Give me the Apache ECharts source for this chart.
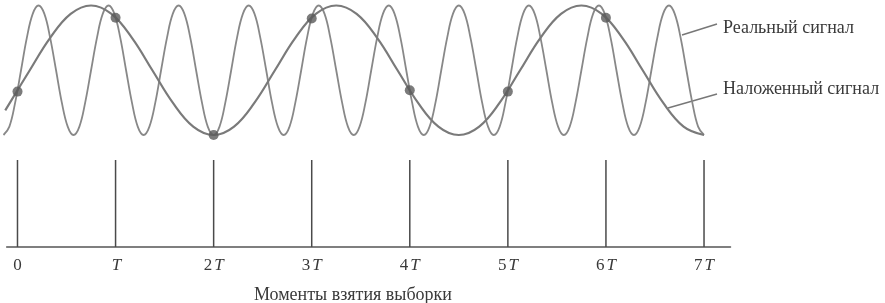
<!DOCTYPE html>
<html><head><meta charset="utf-8">
<script src="https://cdn.jsdelivr.net/npm/echarts@6/dist/echarts.min.js"></script>
<style>html,body{margin:0;padding:0;background:#fff}#c{width:885px;height:303px}</style>
</head><body><div id="c"></div>
<script>
const realT = [-0.143,-0.083,-0.024,0.036,0.095,0.155,0.214,0.274,0.333,0.393,0.452,0.512,
0.571,0.631,0.690,0.750,0.810,0.869,0.929,0.988,1.048,1.107,1.167,1.226,
1.286,1.345,1.405,1.464,1.524,1.583,1.643,1.702,1.762,1.821,1.881,1.940,
2.000,2.060,2.119,2.179,2.238,2.298,2.357,2.417,2.476,2.536,2.595,2.655,
2.714,2.774,2.833,2.893,2.952,3.012,3.071,3.131,3.190,3.250,3.310,3.369,
3.429,3.488,3.548,3.607,3.667,3.726,3.786,3.845,3.905,3.964,4.024,4.083,
4.143,4.202,4.262,4.321,4.381,4.440,4.500,4.560,4.619,4.679,4.738,4.798,
4.857,4.917,4.976,5.036,5.095,5.155,5.214,5.274,5.333,5.393,5.452,5.512,
5.571,5.631,5.690,5.750,5.810,5.869,5.929,5.988,6.048,6.107,6.167,6.226,
6.286,6.345,6.405,6.464,6.524,6.583,6.643,6.702,6.762,6.821,6.881,6.940,
7.000];
const realY = [-1,-0.87,-0.5,0,0.5,0.87,1,0.87,0.5,0,-0.5,-0.87,
-1,-0.87,-0.5,0,0.5,0.87,1,0.87,0.5,0,-0.5,-0.87,
-1,-0.87,-0.5,0,0.5,0.87,1,0.87,0.5,0,-0.5,-0.87,
-1,-0.87,-0.5,0,0.5,0.87,1,0.87,0.5,0,-0.5,-0.87,
-1,-0.87,-0.5,0,0.5,0.87,1,0.87,0.5,0,-0.5,-0.87,
-1,-0.87,-0.5,0,0.5,0.87,1,0.87,0.5,0,-0.5,-0.87,
-1,-0.87,-0.5,0,0.5,0.87,1,0.87,0.5,0,-0.5,-0.87,
-1,-0.87,-0.5,0,0.5,0.87,1,0.87,0.5,0,-0.5,-0.87,
-1,-0.87,-0.5,0,0.5,0.87,1,0.87,0.5,0,-0.5,-0.87,
-1,-0.87,-0.5,0,0.5,0.87,1,0.87,0.5,0,-0.5,-0.87,
-1];
// Aliased (low-frequency) signal
const aliasT = [-0.125,0.125,0.333,0.542,0.750,0.958,1.167,1.375,1.583,1.792,
2.000,2.208,2.417,2.625,2.833,3.042,3.250,3.458,3.667,3.875,4.083,4.292,
4.500,4.708,4.917,5.125,5.333,5.542,5.750,5.958,6.167,6.375,6.583,6.792,7.000];
const aliasY = [-0.62,0,0.5,0.87,1,0.87,0.5,0,-0.5,-0.87,
-1,-0.87,-0.5,0,0.5,0.87,1,0.87,0.5,0,-0.5,-0.87,
-1,-0.87,-0.5,0,0.5,0.87,1,0.87,0.5,0,-0.5,-0.87,-1];
// Sample instants and sampled values
const sampleT = [0,1,2,3,4,5,6];
const sampleY = [-0.33,0.81,-1,0.80,-0.31,-0.33,0.81];
// Sampling pulses
const pulseT = [0,1,2,3,4,5,6,7];
const pulseH = [1,1,1,1,1,1,1,1];
const tickValues = [0,1,2,3,4,5,6,7];
const tickLabels = ['0','T','2T','3T','4T','5T','6T','7T'];
const xTitle = 'Моменты взятия выборки';
const legendReal = 'Реальный сигнал';
const legendAlias = 'Наложенный сигнал';

const zip = (a,b)=>a.map((v,i)=>[v,b[i]]);
const serif = '"Liberation Serif","DejaVu Serif",serif';
const chart = echarts.init(document.getElementById('c'));
chart.setOption({
  animation:false,
  backgroundColor:'#fff',
  grid:[
    {left:2.8, width:730.6, top:5.5, height:129.5},
    {left:6.7, width:723.8, top:160, height:87}
  ],
  xAxis:[
    {gridIndex:0,type:'value',min:-0.15,max:7.3,show:false},
    {gridIndex:1,type:'value',min:-0.11,max:7.27,
      axisLine:{show:true,onZero:false,lineStyle:{color:'#555',width:1.5}},
      axisTick:{show:false},splitLine:{show:false},
      axisLabel:{customValues:tickValues,margin:10,
        formatter:v=>{const s=tickLabels[tickValues.indexOf(v)];return s.replace(/T/,'{i|T}').replace(/^(\d)/,'{n|$1}');},
        rich:{n:{fontFamily:serif,fontSize:17,color:'#3a3a3a'},i:{fontFamily:serif,fontSize:17,fontStyle:'italic',color:'#3a3a3a',padding:[0,0,0,2]}},
        fontFamily:serif,fontSize:17,color:'#3a3a3a'}
    }
  ],
  yAxis:[
    {gridIndex:0,type:'value',min:-1,max:1,show:false},
    {gridIndex:1,type:'value',min:0,max:1,show:false}
  ],
  series:[
    {type:'line',xAxisIndex:0,yAxisIndex:0,data:zip(realT,realY),smooth:0.4,showSymbol:false,clip:false,
      lineStyle:{color:'#888',width:1.8}},
    {type:'line',xAxisIndex:0,yAxisIndex:0,data:zip(aliasT,aliasY),smooth:0.4,showSymbol:false,clip:false,
      lineStyle:{color:'#7a7a7a',width:2.2}},
    {type:'scatter',xAxisIndex:0,yAxisIndex:0,data:zip(sampleT,sampleY),symbolSize:10,
      itemStyle:{color:'#5a5a5a'},z:5},
    {type:'bar',xAxisIndex:1,yAxisIndex:1,data:zip(pulseT,pulseH),barWidth:1.5,itemStyle:{color:'#4a4a4a'}}
  ],
  graphic:[
    {type:'text',x:353,y:295,style:{text:xTitle,font:'18px '+serif,fill:'#3a3a3a',align:'center',verticalAlign:'middle'}},
    {type:'text',x:723,y:28,style:{text:legendReal,font:'18px '+serif,fill:'#3a3a3a',align:'left',verticalAlign:'middle'}},
    {type:'text',x:723,y:89,style:{text:legendAlias,font:'18px '+serif,fill:'#3a3a3a',align:'left',verticalAlign:'middle'}},
    {type:'line',shape:{x1:682,y1:35,x2:717,y2:24},style:{stroke:'#777',lineWidth:1.5}},
    {type:'line',shape:{x1:668,y1:108,x2:717,y2:94},style:{stroke:'#777',lineWidth:1.5}}
  ]
});
</script></body></html>
